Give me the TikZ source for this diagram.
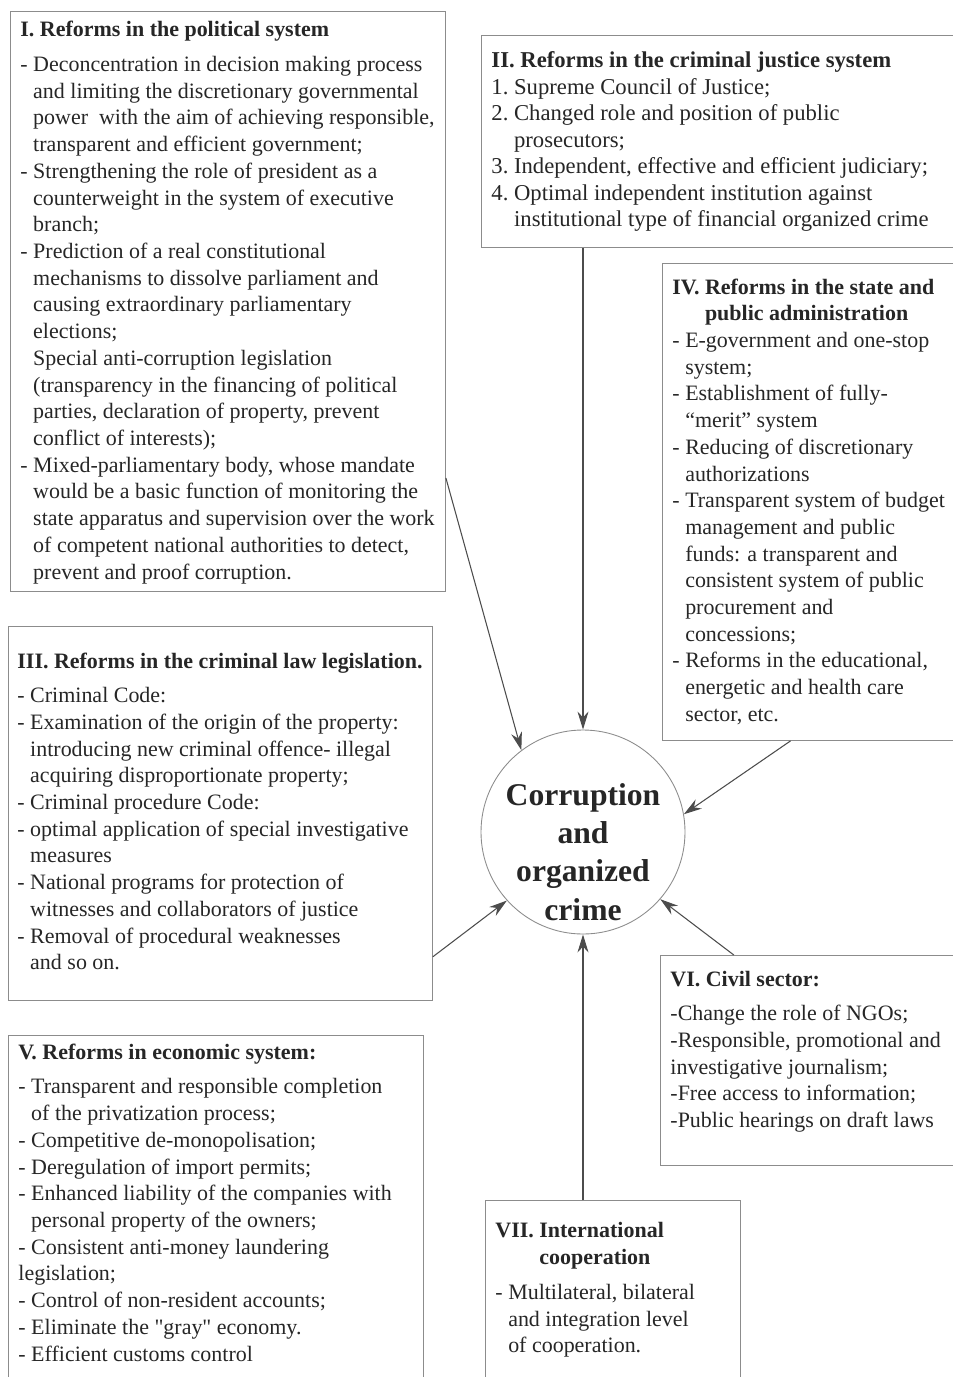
\documentclass[tikz,border=0pt]{standalone}
\usepackage{fontspec}
\setmainfont{Liberation Serif}
\usepackage{tikz}
\usetikzlibrary{arrows.meta}

% text helpers for the reform boxes
\newcommand{\boxtext}[4]{\parbox[t][#2][t]{#1}{\raggedright\rightskip=-6pt plus 1fil\vspace*{#3}#4}}
\newcommand{\hd}[3]{\par\setbox0\hbox{\bfseries#1\ }\hangindent=\wd0\hangafter=1\noindent{\bfseries#1\ #2}\par\vspace{#3}}
\newcommand{\itm}{\par\setbox0\hbox{-\ }\hangindent=\wd0\hangafter=1\noindent-\ }
\newcommand{\itmx}{\par\setbox0\hbox{-\ }\hangindent=\wd0\hangafter=0\noindent}
\newcommand{\nitm}[1]{\par\setbox0\hbox{#1\ }\hangindent=\wd0\hangafter=1\noindent#1\ }

\tikzset{
	reform/.style={draw=black!45, line width=0.5pt, inner xsep=2mm, inner ysep=0pt, anchor=north west, text=black!85, font=\fontsize{12.5}{15.2}\selectfont},
	hub/.style={circle, draw=black!45, line width=0.5pt, minimum size=40.8mm, inner sep=0pt},
	link/.style={->, draw=black!70, line width=0.6pt}
}

\begin{document}
\begin{tikzpicture}[x=0.2mm, y=-0.2mm, >={Stealth[length=3.6mm,width=2.2mm]}]
%	\draw [help lines, step=50] (0,0) grid (953,1377);
	\useasboundingbox (0,0) rectangle (953,1377);
	\clip (0,0) rectangle (953,1377);
	\node [reform] (pol) at (10,11) {\boxtext{83mm}{116mm}{5.7pt}{%
		\hd{I.}{Reforms in the political system}{4.5pt}%
		\itm Deconcentration in decision making process\newline and limiting the discretionary governmental\newline power\ \ with the aim of achieving responsible,\newline transparent and efficient government;%
		\itm Strengthening the role of president as a\newline counterweight in the system of executive\newline branch;%
		\itm Prediction of a real constitutional\newline mechanisms to dissolve parliament and\newline causing extraordinary parliamentary\newline elections;%
		\itmx Special anti-corruption legislation\newline (transparency in the financing of political\newline parties, declaration of property, prevent\newline conflict of interests);%
		\itm Mixed-parliamentary body, whose mandate\newline would be a basic function of monitoring the\newline state apparatus and supervision over the work\newline of competent national authorities to detect,\newline prevent and proof corruption.}};
	\node [reform, font=\fontsize{12.9}{15.1}\selectfont] (just) at (481,35) {\boxtext{91.8mm}{42.4mm}{9.2pt}{%
		\hd{II.}{Reforms in the criminal justice system}{0pt}%
		\nitm{1.}Supreme Council of Justice;%
		\nitm{2.}Changed role and position of public\newline prosecutors;%
		\nitm{3.}Independent, effective and efficient judiciary;%
		\nitm{4.}Optimal independent institution against\newline institutional type of financial organized crime}};
	\node [reform] (adm) at (662,263) {\boxtext{55.6mm}{95.4mm}{8.6pt}{%
		\hd{IV.}{Reforms in the state and\newline public administration}{0pt}%
		\itm E-government and one-stop\newline system;%
		\itm Establishment of fully-\newline “merit” system%
		\itm Reducing of discretionary\newline authorizations%
		\itm Transparent system of budget\newline management and public\newline funds: a transparent and\newline consistent system of public\newline procurement and\newline concessions;%
		\itm Reforms in the educational,\newline energetic and health care\newline sector, etc.}};
	\node [reform, inner xsep=1.8mm] (law) at (8,626) {\boxtext{81.2mm}{74.8mm}{15.2pt}{%
		\hd{III.}{Reforms in the criminal law legislation.}{4.2pt}%
		\itm Criminal Code:%
		\itm Examination of the origin of the property:\newline introducing new criminal offence- illegal\newline acquiring disproportionate property;%
		\itm Criminal procedure Code:%
		\itm optimal application of special investigative\newline measures%
		\itm National programs for protection of\newline witnesses and collaborators of justice%
		\itm Removal of procedural weaknesses\newline and so on.}};
	\node [reform] (econ) at (8,1035) {\boxtext{79mm}{70mm}{4.6pt}{%
		\hd{V.}{Reforms in economic system:}{4.7pt}%
		\itm Transparent and responsible completion\newline of the privatization process;%
		\itm Competitive de-monopolisation;%
		\itm Deregulation of import permits;%
		\itm Enhanced liability of the companies with\newline personal property of the owners;%
		\itm Consistent anti-money laundering%
		\par\noindent legislation;%
		\itm Control of non-resident accounts;%
		\itm Eliminate the \textquotedbl gray\textquotedbl\ economy.%
		\itm Efficient customs control}};
	\node [reform] (civ) at (660,955) {\boxtext{56mm}{42mm}{9pt}{%
		\hd{VI.}{Civil sector:}{4.3pt}%
		\par\noindent -Change the role of NGOs;%
		\par\noindent -Responsible, promotional and\newline investigative journalism;%
		\par\noindent -Free access to information;%
		\par\noindent -Public hearings on draft laws}};
	\node [reform] (intl) at (485,1200) {\boxtext{47mm}{37mm}{12.5pt}{%
		\hd{VII.}{International\newline cooperation}{4.7pt}%
		\itm Multilateral, bilateral\newline and integration level\newline of cooperation.}};
	% centre
	\node [hub] (crime) at (583,832) {};
	\node [font=\bfseries\fontsize{18}{21.8}\selectfont, align=center, text=black!85] (crimelbl) at ([yshift=-4mm]crime.center) {Corruption\\and\\organized\\crime};
	% arrows into the centre
	\draw [link] (pol.-39) -- (crime.127);
	\draw [link] (crime.north |- just.south) -- (crime.north);
	\draw [link] (adm.-95.5) -- (crime.10);
	\draw [link] (law.-34.7) -- (crime.-138);
	\draw [link] (crime.south |- intl.north) -- (crime.south);
	\draw [link] (civ.126.6) -- (crime.-41);
\end{tikzpicture}
\end{document}
